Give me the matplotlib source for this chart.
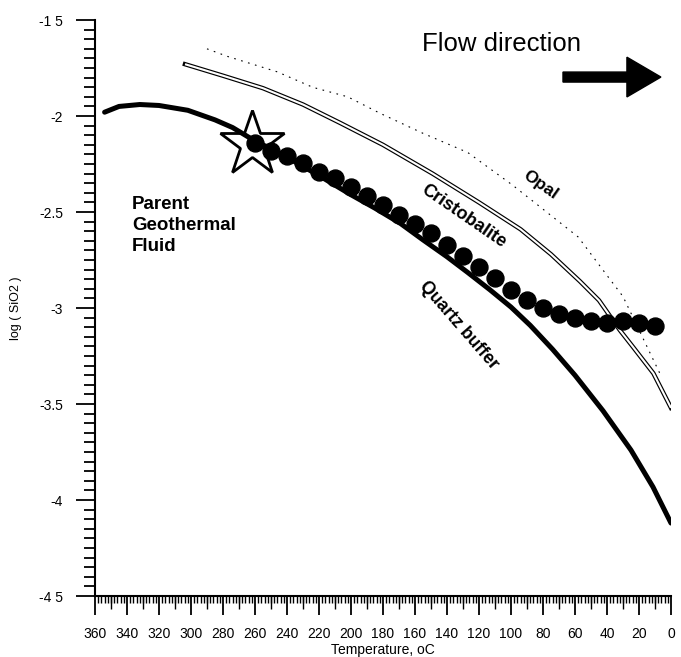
import numpy as np
import matplotlib
matplotlib.use('Agg')
import matplotlib.pyplot as plt
from matplotlib.patches import FancyArrow

plt.rcParams['font.family'] = ['Liberation Sans', 'DejaVu Sans']

# quartz buffer curve (T in oC, log SiO2)
quartz_T = [354, 345, 332, 320, 302, 285, 274, 262, 240, 220, 200, 185, 169, 155,
            140, 127, 113, 100, 88, 74, 60, 42.5, 25, 11.25, 0]
quartz_log = [-1.98, -1.95, -1.94, -1.945, -1.97, -2.02, -2.06, -2.12, -2.215, -2.31,
              -2.41, -2.48, -2.56, -2.645, -2.733, -2.815, -2.906, -2.995, -3.09,
              -3.215, -3.35, -3.535, -3.74, -3.932, -4.12]

# cristobalite
crist_T = [303.75, 280, 255, 230, 207, 180, 149, 120, 94, 75, 57, 45, 32, 24, 11, 0]
crist_log = [-1.73, -1.79, -1.855, -1.94, -2.035, -2.15, -2.30, -2.45, -2.59, -2.72,
             -2.86, -2.96, -3.115, -3.2, -3.34, -3.52]

# opal (faint dashed)
opal_T = [290, 277, 246, 224, 202, 182, 155, 127, 99, 58, 40, 30, 7]
opal_log = [-1.65, -1.69, -1.77, -1.85, -1.90, -1.985, -2.09, -2.19, -2.36, -2.63,
            -2.83, -2.94, -3.34]

# fluid path (circles)
fluid_T = [260, 250, 240, 230, 220, 210, 200, 190, 180, 170, 160, 150, 140,
           130, 120, 110, 100, 90, 80, 70, 60, 50, 40, 30, 20, 10]
fluid_log = [-2.14, -2.18, -2.21, -2.245, -2.29, -2.325, -2.37, -2.417, -2.464,
             -2.516, -2.56, -2.61, -2.67, -2.729, -2.785, -2.845, -2.906, -2.958,
             -3.002, -3.031, -3.05, -3.066, -3.08, -3.066, -3.076, -3.094]

parent_T = [262]
parent_log = [-2.145]

xticks = list(range(360, -1, -20))
yticks = [-1.5, -2, -2.5, -3, -3.5, -4, -4.5]
ylabels = ['-1 5', '-2', '-2.5', '-3', '-3.5', '-4', '-4 5']

fig = plt.figure(figsize=(6.81, 6.57), dpi=100)
ax = fig.add_axes([0.1395, 0.0928, 0.8458, 0.8767])

ax.plot(opal_T, opal_log, color='k', lw=0.8, ls=(0, (1.5, 5)))
ax.plot(crist_T, crist_log, color='k', lw=3.2, solid_capstyle='projecting')
ax.plot(crist_T, crist_log, color='white', lw=1.5, solid_capstyle='butt')
ax.plot(quartz_T, quartz_log, color='k', lw=3.6, solid_capstyle='round')
ax.plot(fluid_T, fluid_log, 'o', color='k', ms=12.2, mec='k')
ax.plot(parent_T, parent_log, '*', ms=49, mfc='none', mec='k', mew=2.0)

ax.set_xlim(360, 0)
ax.set_ylim(-4.5, -1.5)

for s in ['top', 'right']:
    ax.spines[s].set_visible(False)
ax.spines['left'].set_linewidth(1.5)
ax.spines['bottom'].set_linewidth(1.5)

ax.set_xticks(xticks)
ax.set_xticks(np.arange(0, 361, 2), minor=True)
ax.set_yticks(yticks)
ax.set_yticklabels(ylabels)
ax.set_yticks(np.arange(-4.5, -1.49, 0.05), minor=True)
ax.tick_params(axis='both', which='major', labelsize=10, width=1.3, direction='out')
ax.tick_params(axis='x', which='major', length=14, pad=8)
ax.tick_params(axis='x', which='minor', length=5, width=1.0)
ax.tick_params(axis='y', which='major', length=14, pad=9)
ax.tick_params(axis='y', which='minor', length=8, width=1.3)

# medium ticks every 10 degrees
sec = ax.secondary_xaxis('bottom')
sec.set_xticks(list(range(350, 0, -20)))
sec.tick_params(length=9, width=1.0, labelbottom=False)
sec.spines['bottom'].set_visible(False)

ax.set_xlabel('Temperature, oC', fontsize=10, labelpad=1.5)
ax.set_ylabel('log ( SiO2 )', fontsize=9, labelpad=12)

ax.text(0.705, 0.958, 'Flow direction', transform=ax.transAxes, fontsize=18.5,
        ha='center', va='center')
ax.add_patch(FancyArrow(0.8125, 0.901, 0.170, 0, width=0.0174, head_width=0.069,
                        head_length=0.059, length_includes_head=True, color='k',
                        transform=ax.transAxes))

ax.text(0.064, 0.695, 'Parent\nGeothermal\nFluid', transform=ax.transAxes, fontsize=13.5,
        fontweight='bold', ha='left', va='top', linespacing=1.3)
ax.text(0.64, 0.66, 'Cristobalite', transform=ax.transAxes, fontsize=13,
        fontweight='bold', rotation=-34.5, ha='center', va='center')
ax.text(0.773, 0.713, 'Opal', transform=ax.transAxes, fontsize=12.5,
        fontweight='bold', rotation=-35, ha='center', va='center')
ax.text(0.632, 0.470, 'Quartz buffer', transform=ax.transAxes, fontsize=12.7,
        fontweight='bold', rotation=-49, ha='center', va='center')

fig.savefig('out.png', dpi=100)
